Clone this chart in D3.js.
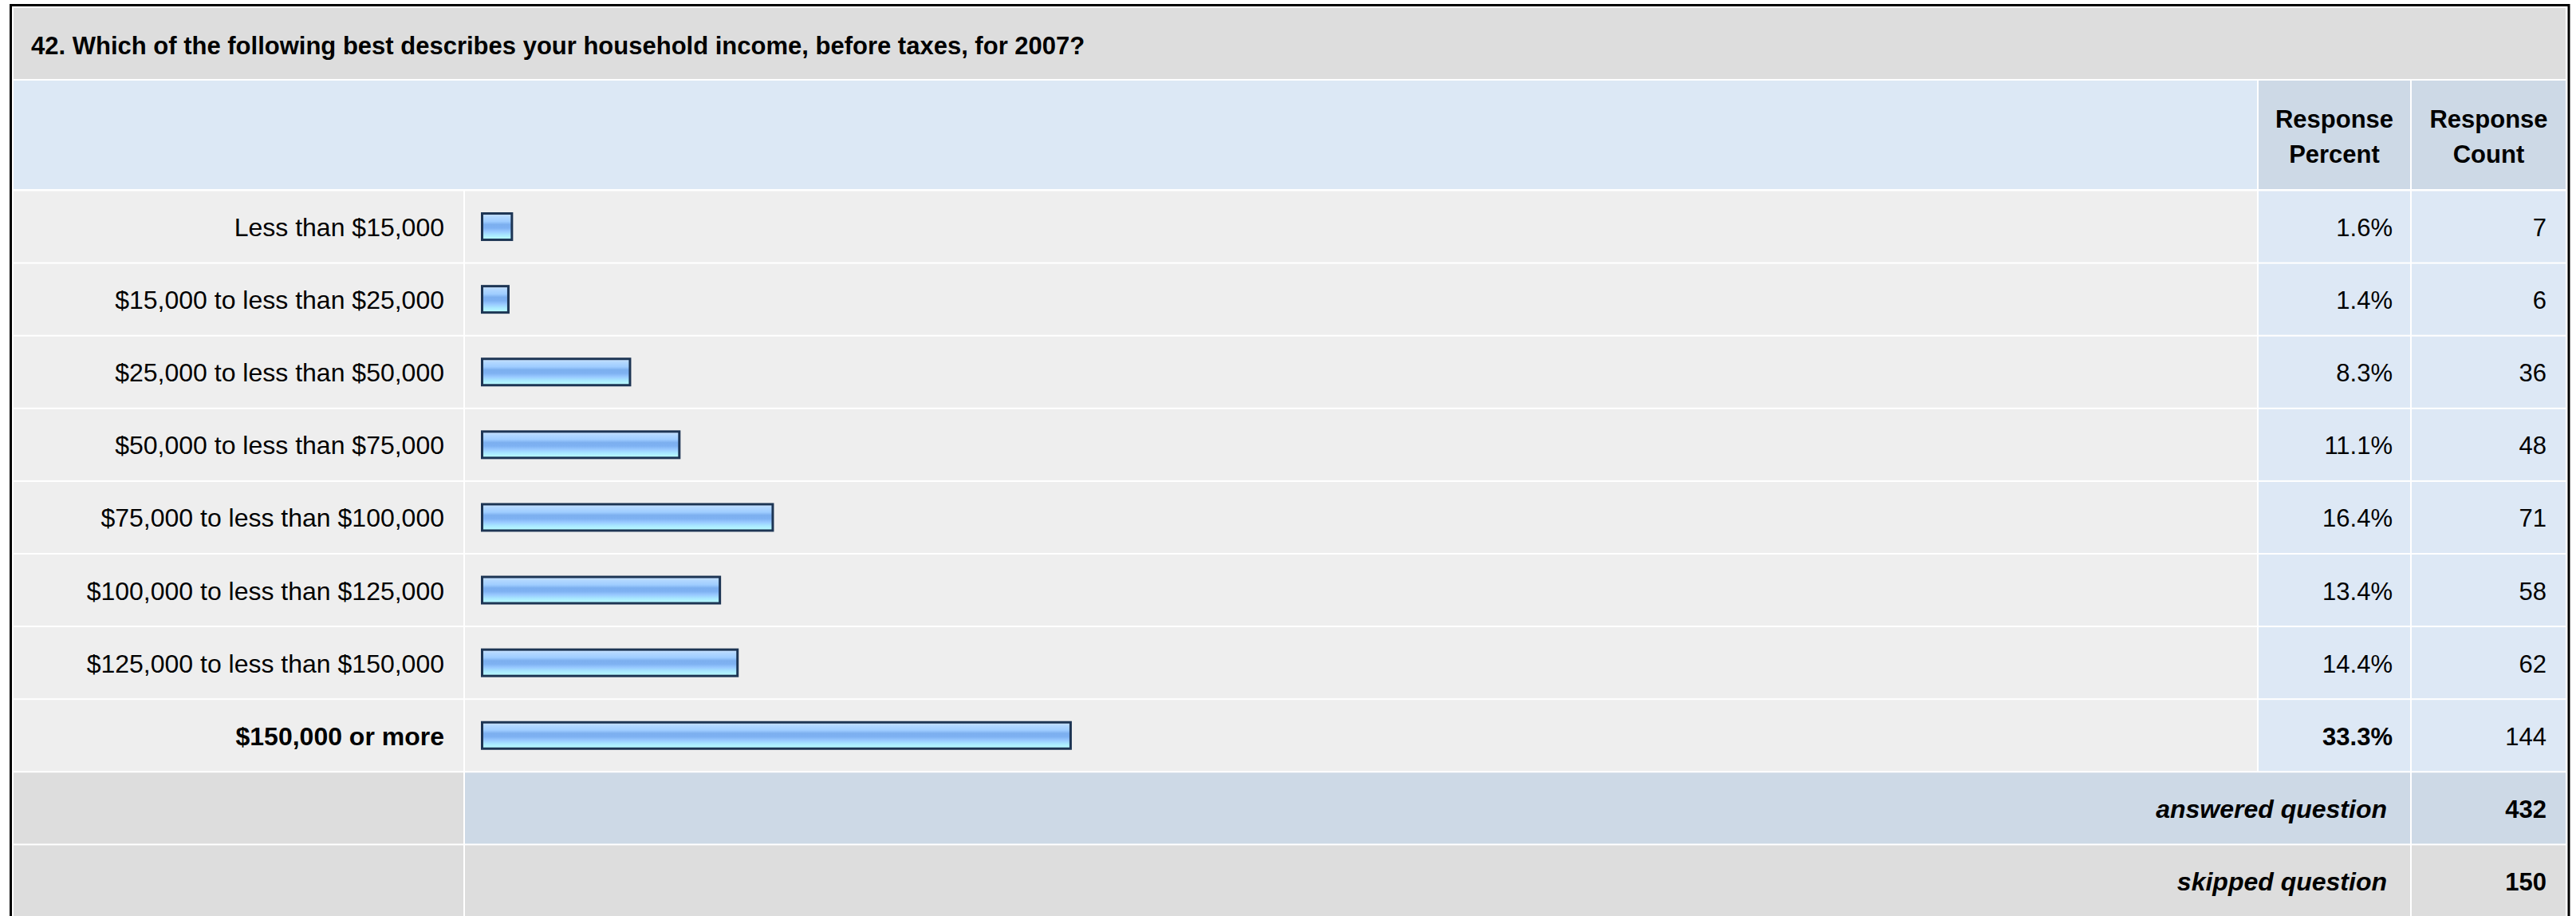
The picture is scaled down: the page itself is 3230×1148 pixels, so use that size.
<!DOCTYPE html>
<html>
<head>
<meta charset="utf-8">
<script src="https://cdn.jsdelivr.net/npm/d3@7"></script>
<style>
	body { margin: 0; background: #ffffff; }
	svg { display: block; font-family: "Liberation Sans", Arial, Helvetica, sans-serif; }
</style>
</head>
<body>
<svg id="chart"></svg>
<script>

var questionTitle = "42. Which of the following best describes your household income, before taxes, for 2007?";
var headerLines = [["Response", "Percent"], ["Response", "Count"]];
var answers = ["Less than $15,000", "$15,000 to less than $25,000", "$25,000 to less than $50,000",
	"$50,000 to less than $75,000", "$75,000 to less than $100,000", "$100,000 to less than $125,000",
	"$125,000 to less than $150,000", "$150,000 or more"];
var percents = [1.6, 1.4, 8.3, 11.1, 16.4, 13.4, 14.4, 33.3];
var counts = [7, 6, 36, 48, 71, 58, 62, 144];
var summaryLabels = ["answered question", "skipped question"];
var summaryCounts = [432, 150];


var width = 3230;
	height = 1148;
	fontSize = 31;	//numbers + headers
	labelSize = 32;	//answer labels are drawn a touch wider

//column edges (label | bar | percent | count)
var colLabel = [17, 581],
	colBar = [583, 2830],
	colPct = [2832, 3022],
	colCount = [3024, 3217];

var svg = d3.select("#chart")
	.attr("width", width)
	.attr("height", height);

//bar gradient, horizontal glossy stripes
var grad = svg.append("defs").append("linearGradient")
	.attr("id", "barGrad")
	.attr("x1", 0).attr("y1", 0).attr("x2", 0).attr("y2", 1);
[[0, "#d2e6ff"], [0.12, "#b3d8ff"], [0.3, "#9fcdff"], [0.42, "#7cafef"], [0.55, "#7eb1f2"],
 [0.68, "#98c9ff"], [0.82, "#a9e8ff"], [1, "#bcffff"]].forEach(function(s){
	grad.append("stop").attr("offset", s[0]).attr("stop-color", s[1]);
});

//outer frame
svg.append("rect")
	.attr("x", 13.5)
	.attr("y", 6.5)
	.attr("width", 3221 - 13.5)
	.attr("height", height + 20)
	.attr("fill", "none")
	.attr("stroke", "#000")
	.attr("stroke-width", 3);

//title row
svg.append("rect")
	.attr("x", colLabel[0]).attr("y", 10)
	.attr("width", colCount[1] - colLabel[0]).attr("height", 89)
	.attr("fill", "#dddddd");
svg.append("text")
	.attr("x", 39)
	.attr("y", 68)
	.attr("font-size", 31)
	.attr("font-weight", "bold")
	.text(questionTitle);

//header row
var headTop = 101, headBottom = 237;
svg.append("rect")
	.attr("x", colLabel[0]).attr("y", headTop)
	.attr("width", colBar[1] - colLabel[0]).attr("height", headBottom - headTop)
	.attr("fill", "#dce8f5");

var headCols = [colPct, colCount];
headCols.forEach(function(c, i){
	svg.append("rect")
		.attr("x", c[0]).attr("y", headTop)
		.attr("width", c[1] - c[0]).attr("height", headBottom - headTop)
		.attr("fill", "#cdd9e6");
	svg.append("text")
		.attr("x", (c[0] + c[1]) / 2)
		.attr("y", 160)
		.attr("text-anchor", "middle")
		.attr("font-size", fontSize)
		.attr("font-weight", "bold")
		.selectAll("tspan")
		.data(headerLines[i])
		.enter().append("tspan")
		.attr("x", (c[0] + c[1]) / 2)
		.attr("dy", function(d, j){ return j == 0 ? 0 : 44; })
		.text(function(d){ return d; });
});

//rows: answers then the two summary rows
var rowKeys = answers.concat(summaryLabels);
var y = d3.scaleBand()
	.domain(rowKeys)
	.range([239.5, 239.5 + rowKeys.length * 91.1 - 2])
	.paddingInner(2 / 91.1);

//bar length scale (percent -> px)
var x = d3.scaleLinear()
	.domain([0, 100])
	.range([0, 2210]);

var maxPct = d3.max(percents);

var rows = svg.selectAll(".answer")
	.data(answers.map(function(a, i){ return {label: a, pct: percents[i], count: counts[i]}; }))
	.enter().append("g")
	.attr("class", "answer")
	.attr("transform", function(d){ return "translate(0," + y(d.label) + ")"; });

var bh = y.bandwidth();

rows.append("rect")
	.attr("x", colLabel[0]).attr("width", colLabel[1] - colLabel[0]).attr("height", bh)
	.attr("fill", "#eeeeee");
rows.append("rect")
	.attr("x", colBar[0]).attr("width", colBar[1] - colBar[0]).attr("height", bh)
	.attr("fill", "#eeeeee");
rows.append("rect")
	.attr("x", colPct[0]).attr("width", colPct[1] - colPct[0]).attr("height", bh)
	.attr("fill", "#dde8f5");
rows.append("rect")
	.attr("x", colCount[0]).attr("width", colCount[1] - colCount[0]).attr("height", bh)
	.attr("fill", "#dde8f5");

//labels
rows.append("text")
	.attr("x", colLabel[1] - 24)
	.attr("y", bh / 2 + 12)
	.attr("text-anchor", "end")
	.attr("font-size", labelSize)
	.attr("font-weight", function(d){ return d.pct == maxPct ? "bold" : "normal"; })
	.text(function(d){ return d.label; });

//bars
rows.append("rect")
	.attr("x", 604.5)
	.attr("y", bh / 2 - 16.5)
	.attr("width", function(d){ return x(d.pct) + 2; })
	.attr("height", 33)
	.attr("fill", "url(#barGrad)")
	.attr("stroke", "#1d3554")
	.attr("stroke-width", 3);

rows.append("text")
	.attr("x", colPct[1] - 22)
	.attr("y", bh / 2 + 12)
	.attr("text-anchor", "end")
	.attr("font-size", fontSize)
	.attr("font-weight", function(d){ return d.pct == maxPct ? "bold" : "normal"; })
	.text(function(d){ return d.pct.toFixed(1) + "%"; });

rows.append("text")
	.attr("x", colCount[1] - 24)
	.attr("y", bh / 2 + 12)
	.attr("text-anchor", "end")
	.attr("font-size", fontSize)
	.text(function(d){ return d.count; });

//answered / skipped rows
var sumRows = svg.selectAll(".summary")
	.data(summaryLabels.map(function(s, i){ return {label: s, count: summaryCounts[i], i: i}; }))
	.enter().append("g")
	.attr("class", "summary")
	.attr("transform", function(d){ return "translate(0," + y(d.label) + ")"; });

sumRows.append("rect")
	.attr("x", colLabel[0]).attr("width", colLabel[1] - colLabel[0]).attr("height", bh)
	.attr("fill", "#dddddd");
sumRows.append("rect")
	.attr("x", colBar[0]).attr("width", colPct[1] - colBar[0]).attr("height", bh)
	.attr("fill", function(d){ return d.i == 0 ? "#cdd9e6" : "#dddddd"; });
sumRows.append("rect")
	.attr("x", colCount[0]).attr("width", colCount[1] - colCount[0]).attr("height", bh)
	.attr("fill", function(d){ return d.i == 0 ? "#cdd9e6" : "#dddddd"; });

sumRows.append("text")
	.attr("x", colPct[1] - 29)
	.attr("y", bh / 2 + 12)
	.attr("text-anchor", "end")
	.attr("font-size", labelSize)
	.attr("font-weight", "bold")
	.attr("font-style", "italic")
	.text(function(d){ return d.label; });

sumRows.append("text")
	.attr("x", colCount[1] - 24)
	.attr("y", bh / 2 + 12)
	.attr("text-anchor", "end")
	.attr("font-size", fontSize)
	.attr("font-weight", "bold")
	.text(function(d){ return d.count; });

</script>
</body>
</html>
